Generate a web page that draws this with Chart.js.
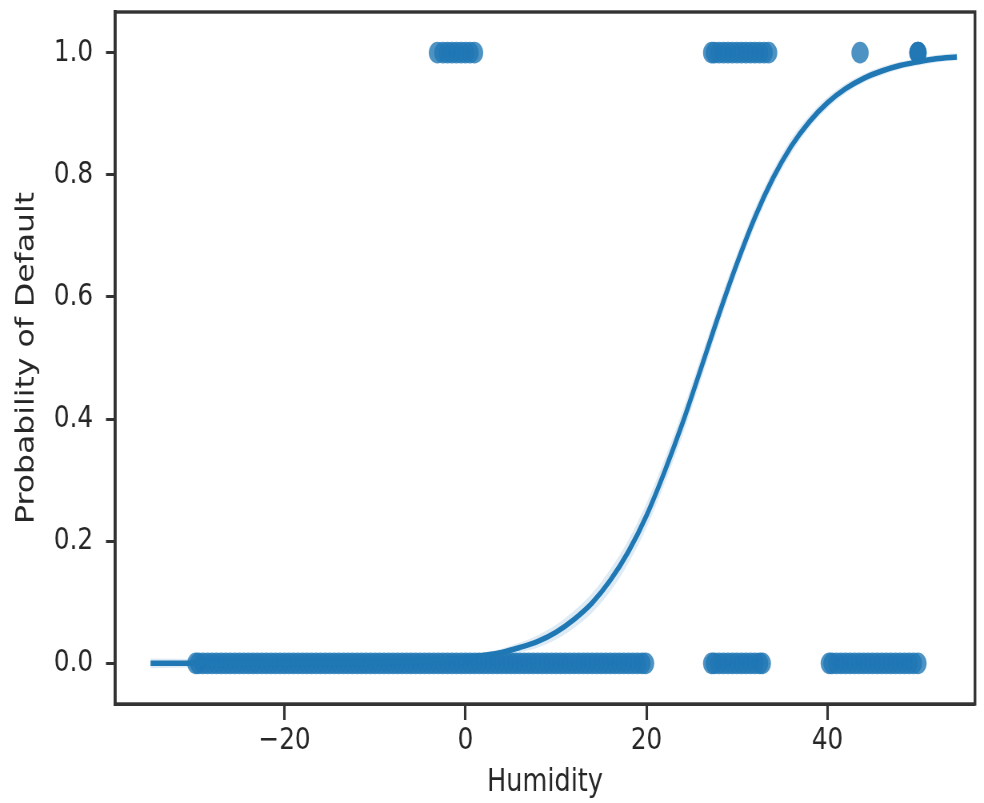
<!DOCTYPE html>
<html>
<head>
<meta charset="utf-8">
<title>Probability of Default vs Humidity</title>
<script src="https://cdn.jsdelivr.net/npm/chart.js@4"></script>
<style>
  html, body { margin: 0; padding: 0; background: #fff; overflow: hidden; }
  /* The reference figure is squeezed horizontally; mimic it with a plain CSS scale. */
  #wrap { width: 1230px; height: 803px; transform: scaleX(0.8); transform-origin: 0 0; }
  canvas { display: block; }
</style>
</head>
<body>
<div id="wrap"><canvas id="chart" width="1230" height="803"></canvas></div>
<script>
/* Logistic regression plot: observations at 0/1 plus fitted curve with CI band. */

// Fitted curve.
const curveX = [-34.8, -30, -25, -20, -15, -10, -5, 0, 2, 4, 6, 8, 10, 12, 14, 16, 18, 20,
  22, 24, 26, 28, 30, 32, 34, 36, 38, 40, 42, 44, 46, 48, 50, 52, 54.3];
const curveP = [0.000, 0.000, 0.000, 0.0003, 0.0006, 0.0015, 0.004, 0.009, 0.013, 0.018, 0.026,
  0.036, 0.051, 0.072, 0.099, 0.136, 0.183, 0.242, 0.314, 0.394, 0.482, 0.571, 0.655, 0.731,
  0.795, 0.847, 0.887, 0.918, 0.941, 0.958, 0.970, 0.979, 0.985, 0.990, 0.993];
// Half width of the confidence band at each curve point.
const ciHalf = [0.008, 0.007, 0.006, 0.005, 0.004, 0.003, 0.003, 0.004, 0.005, 0.006, 0.008,
  0.010, 0.012, 0.014, 0.016, 0.018, 0.019, 0.020, 0.020, 0.020, 0.019, 0.018, 0.016, 0.015,
  0.013, 0.012, 0.010, 0.009, 0.008, 0.007, 0.007, 0.006, 0.006, 0.006, 0.006];

// Observations with outcome 0.
const zeroX = [
  -29.8, -29.5, -29, -28.5, -28, -27.5, -27, -26.5, -26, -25.5, -25, -24.5, -24, -23.5, -23,
  -22.5, -22, -21.5, -21, -20.5, -20, -19.5, -19, -18.5, -18, -17.5, -17, -16.5, -16, -15.5,
  -15, -14.5, -14, -13.5, -13, -12.5, -12, -11.5, -11, -10.5, -10, -9.5, -9, -8.5, -8, -7.5,
  -7, -6.5, -6, -5.5, -5, -4.5, -4, -3.5, -3, -2.5, -2, -1.5, -1, -0.5, 0, 0.5, 1, 1.5, 2,
  2.5, 3, 3.5, 4, 4.5, 5, 5.5, 6, 6.5, 7, 7.5, 8, 8.5, 9, 9.5, 10, 10.5, 11, 11.5, 12, 12.5,
  13, 13.5, 14, 14.5, 15, 15.5, 16, 16.5, 17, 17.5, 18, 18.5, 19, 19.5, 19.9,
  27.2, 27.5, 28, 28.5, 29, 29.5, 30, 30.5, 31, 31.5, 32, 32.5, 32.8,
  40.2, 40.5, 41, 41.5, 42, 42.5, 43, 43.5, 44, 44.5, 45, 45.5, 46, 46.5, 47, 47.5, 48, 48.5,
  49, 49.5, 50,
];
// Observations with outcome 1.
const oneX = [
  -3.1, -2.5, -2, -1.5, -1, -0.5, 0, 0.5, 1,
  27.2, 27.5, 28, 28.5, 29, 29.5, 30, 30.5, 31, 31.5, 32, 32.5, 33, 33.5,
  43.6,
  50, 50, 50,
];

const xTicks = [-20, 0, 20, 40];
const yTicks = [0, 0.2, 0.4, 0.6, 0.8, 1.0];

const BLUE = "#1f77b4";
const INK = "#262626";
const SPINE = "#333333";
const FONT = "'DejaVu Sans', sans-serif";

const pts = (xs, ys) => xs.map((x, i) => ({ x, y: typeof ys === "number" ? ys : ys[i] }));

// Matplotlib-style closed frame around the plot area.
const framePlugin = {
  id: "frame",
  afterDraw(chart) {
    const { ctx, chartArea: a } = chart;
    ctx.save();
    ctx.strokeStyle = SPINE;
    ctx.lineWidth = 3.4;
    ctx.strokeRect(a.left, a.top, a.right - a.left, a.bottom - a.top);
    ctx.restore();
  },
};

new Chart(document.getElementById("chart"), {
  type: "scatter",
  data: {
    datasets: [
      {
        label: "fit",
        data: pts(curveX, curveP),
        showLine: true,
        borderColor: BLUE,
        borderWidth: 5.5,
        pointRadius: 0,
        cubicInterpolationMode: "monotone",
        order: 0,
      },
      {
        label: "ci-high",
        data: pts(curveX, curveP.map((p, i) => p + ciHalf[i])),
        showLine: true,
        borderWidth: 0,
        pointRadius: 0,
        cubicInterpolationMode: "monotone",
        backgroundColor: "rgba(31,119,180,0.15)",
        fill: "+1",
        order: 1,
      },
      {
        label: "ci-low",
        data: pts(curveX, curveP.map((p, i) => p - ciHalf[i])),
        showLine: true,
        borderWidth: 0,
        pointRadius: 0,
        cubicInterpolationMode: "monotone",
        order: 1,
      },
      {
        label: "y=0",
        data: pts(zeroX, 0),
        pointRadius: 10.8,
        borderWidth: 0,
        backgroundColor: "rgba(31,119,180,0.8)",
        order: 2,
      },
      {
        label: "y=1",
        data: pts(oneX, 1),
        pointRadius: 10.8,
        borderWidth: 0,
        backgroundColor: "rgba(31,119,180,0.8)",
        order: 2,
      },
    ],
  },
  options: {
    responsive: false,
    animation: false,
    layout: { padding: { top: 12, right: 11.25, left: 0, bottom: 0 } },
    plugins: { legend: { display: false }, tooltip: { enabled: false } },
    scales: {
      x: {
        type: "linear",
        min: -38.73,
        max: 56.3,
        border: { display: true, color: SPINE, width: 3 },
        grid: { drawOnChartArea: false, drawTicks: true, tickLength: 16, tickWidth: 3.1, tickColor: SPINE },
        ticks: {
          color: INK,
          padding: 2,
          font: { family: FONT, size: 31 },
          callback: (v) => (v < 0 ? "\u2212" + Math.abs(v) : String(v)),
        },
        afterBuildTicks: (s) => { s.ticks = xTicks.map((v) => ({ value: v })); },
        afterFit: (s) => { s.height = 99; s.paddingLeft = 0; s.paddingRight = 0; },
        title: {
          display: true,
          text: "Humidity",
          color: INK,
          font: { family: FONT, size: 32 },
          padding: { top: 0, bottom: 1 },
        },
      },
      y: {
        type: "linear",
        min: -0.0666,
        max: 1.0666,
        border: { display: true, color: SPINE, width: 3.75 },
        grid: { drawOnChartArea: false, drawTicks: true, tickLength: 11.25, tickWidth: 3, tickColor: SPINE },
        ticks: {
          color: INK,
          padding: 16,
          font: { family: FONT, size: 31 },
          callback: (v) => v.toFixed(1),
        },
        afterBuildTicks: (s) => { s.ticks = yTicks.map((v) => ({ value: v })); },
        afterFit: (s) => { s.width = 143.75; s.paddingTop = 0; s.paddingBottom = 0; },
        title: {
          display: true,
          text: "Probability of Default",
          color: INK,
          font: { family: FONT, size: 31.5 },
          padding: { top: 15, bottom: 0 },
        },
      },
    },
  },
  plugins: [framePlugin],
});
</script>
</body>
</html>
